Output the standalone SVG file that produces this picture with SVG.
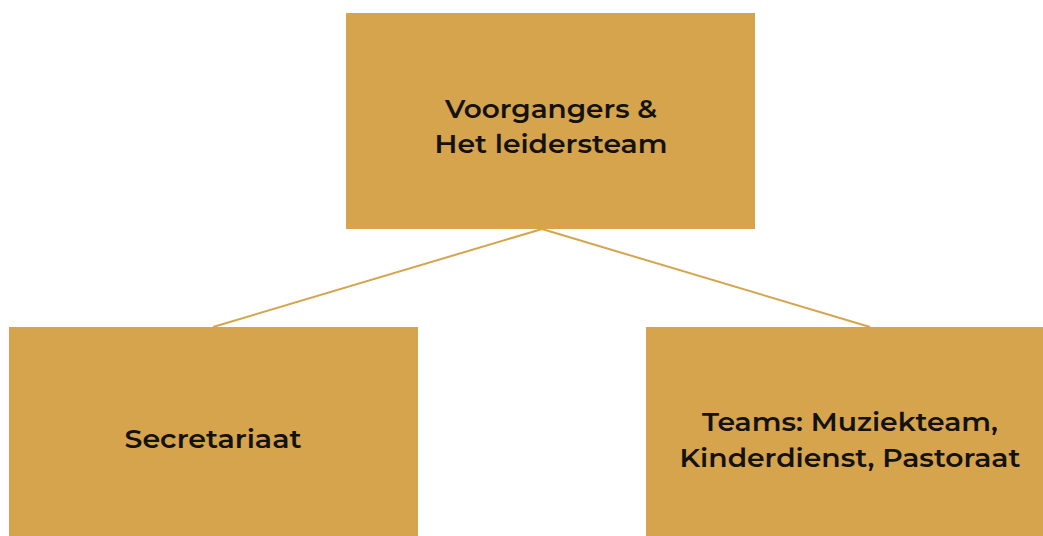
<svg xmlns="http://www.w3.org/2000/svg" width="1043" height="536" viewBox="0 0 1043 536">
<style>
.box{fill:#D5A44C;}
.lbl{font-family:"Montserrat","Open Sans","Liberation Sans",sans-serif;font-weight:600;font-size:26.5px;fill:#141210;text-anchor:middle;}
.conn{stroke:#D5A44C;stroke-width:2;fill:none;}
</style>
<rect width="1043" height="536" fill="#ffffff"/>
<g id="connectors">
<line class="conn" x1="542" y1="229" x2="213" y2="327"/>
<line class="conn" x1="542" y1="229" x2="870" y2="327"/>
</g>
<g id="node-leiders">
<rect class="box" x="346" y="13" width="409" height="216"/>
<text class="lbl" x="551" y="118" textLength="212" lengthAdjust="spacingAndGlyphs">Voorgangers &amp;</text>
<text class="lbl" x="551" y="153" textLength="233" lengthAdjust="spacingAndGlyphs">Het leidersteam</text>
</g>
<g id="node-secretariaat">
<rect class="box" x="9" y="327" width="409" height="209"/>
<text class="lbl" x="213" y="448" textLength="177" lengthAdjust="spacingAndGlyphs">Secretariaat</text>
</g>
<g id="node-teams">
<rect class="box" x="646" y="327" width="397" height="209"/>
<text class="lbl" x="850" y="431" textLength="296" lengthAdjust="spacingAndGlyphs">Teams: Muziekteam,</text>
<text class="lbl" x="850" y="467" textLength="341" lengthAdjust="spacingAndGlyphs">Kinderdienst, Pastoraat</text>
</g>
</svg>
